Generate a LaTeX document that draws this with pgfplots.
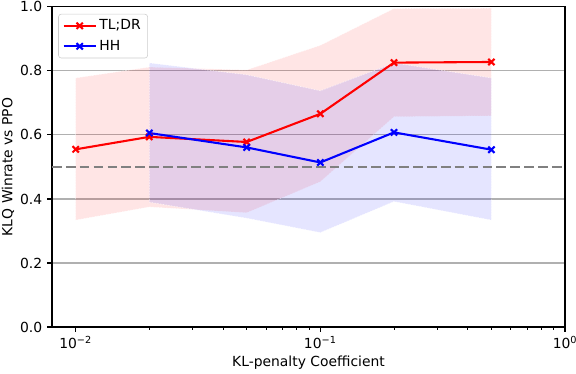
\documentclass[border=0pt]{standalone}
\usepackage{fontspec}
\setmainfont{DejaVu Sans}
\usepackage{pgfplots}
\pgfplotsset{compat=1.18}
\usepgfplotslibrary{fillbetween}
\usepackage{pgfplotstable}

\definecolor{gridgray}{RGB}{176,176,176}
\definecolor{leggray}{RGB}{204,204,204}

% x = KL-penalty coefficient, mean winrate, lower / upper band
\pgfplotstableread{
x     mean   lo     hi
0.01  0.555  0.334  0.778
0.02  0.594  0.375  0.812
0.05  0.578  0.357  0.803
0.1   0.666  0.454  0.880
0.2   0.826  0.657  0.995
0.5   0.828  0.660  0.996
}\tldr
\pgfplotstableread{
x     mean   lo     hi
0.02  0.606  0.390  0.825
0.05  0.561  0.340  0.788
0.1   0.514  0.295  0.738
0.2   0.608  0.392  0.825
0.5   0.554  0.334  0.778
}\hh

\begin{document}
\begin{tikzpicture}
\begin{axis}[
    scale only axis,
    width=369.4pt, height=230.4pt,
    xmode=log,
    xmin=0.008, xmax=1,
    ymin=0, ymax=1,
    xtick={0.01,0.1,1},
    xticklabels={10\textsuperscript{−2},10\textsuperscript{−1},10\textsuperscript{0}},
    ytick={0,0.2,0.4,0.6,0.8,1},
    yticklabel style={/pgf/number format/.cd,fixed,fixed zerofill,precision=1},
    /pgf/number format/assume math mode=true,
    tick align=outside,
    xtick pos=bottom, ytick pos=left,
    major tick length=3.5pt, minor tick length=2pt,
    every tick/.style={black, line width=0.8pt},
    minor tick style={line width=0.6pt},
    axis line style={line width=0.8pt},
    ymajorgrids,
    grid style={gridgray, line width=0.8pt},
    tick label style={font=\fontsize{10}{12}\selectfont},
    label style={font=\fontsize{10}{12}\selectfont},
    xlabel={KL-penalty Coefficient},
    ylabel={KLQ Winrate vs PPO},
    every axis x label/.style={at={(axis description cs:0.5,0)}, yshift=-26pt, anchor=center},
    every axis y label/.style={at={(axis description cs:0,0.5)}, xshift=-31.6pt, rotate=90, anchor=center},
    legend style={at={(axis description cs:0,1)}, xshift=4.5pt, yshift=-5pt, anchor=north west,
        draw=leggray, rounded corners=2pt, fill=white, fill opacity=0.8, text opacity=1,
        font=\fontsize{10}{12}\selectfont, row sep=2pt, inner xsep=3pt, inner ysep=2pt},
    legend cell align=left,
    legend image code/.code={
        \draw[mark repeat=2, mark phase=2] plot coordinates {(0pt,0pt) (11.5pt,0pt) (23pt,0pt)};
    },
]
% bands
\addplot[name path=tlhi, draw=none, forget plot] table[x=x, y=hi] {\tldr};
\addplot[name path=tllo, draw=none, forget plot] table[x=x, y=lo] {\tldr};
\addplot[red, fill opacity=0.1, draw=white, draw opacity=0.7, line width=0.4pt, dash pattern=on 1pt off 1pt, forget plot] fill between[of=tlhi and tllo];
\addplot[name path=hhhi, draw=none, forget plot] table[x=x, y=hi] {\hh};
\addplot[name path=hhlo, draw=none, forget plot] table[x=x, y=lo] {\hh};
\addplot[blue, fill opacity=0.1, draw=white, draw opacity=0.7, line width=0.4pt, dash pattern=on 1pt off 1pt, forget plot] fill between[of=hhhi and hhlo];

% chance level
\addplot[gray, line width=1.5pt, dash pattern=on 7pt off 3pt, forget plot] coordinates {(0.008,0.5) (1,0.5)};

% means
\addplot[red, line width=1.5pt, mark=x, mark size=3.2pt, mark options={line width=1.5pt}] table[x=x, y=mean] {\tldr};
\addlegendentry{TL;DR}
\addplot[blue, line width=1.5pt, mark=x, mark size=3.2pt, mark options={line width=1.5pt}] table[x=x, y=mean] {\hh};
\addlegendentry{HH}
\end{axis}
\pgfresetboundingbox
\useasboundingbox ([shift={(-37.4pt,-33.8pt)}]current axis.south west) rectangle ([shift={(7.9pt,5pt)}]current axis.north east);
\end{tikzpicture}
\end{document}
